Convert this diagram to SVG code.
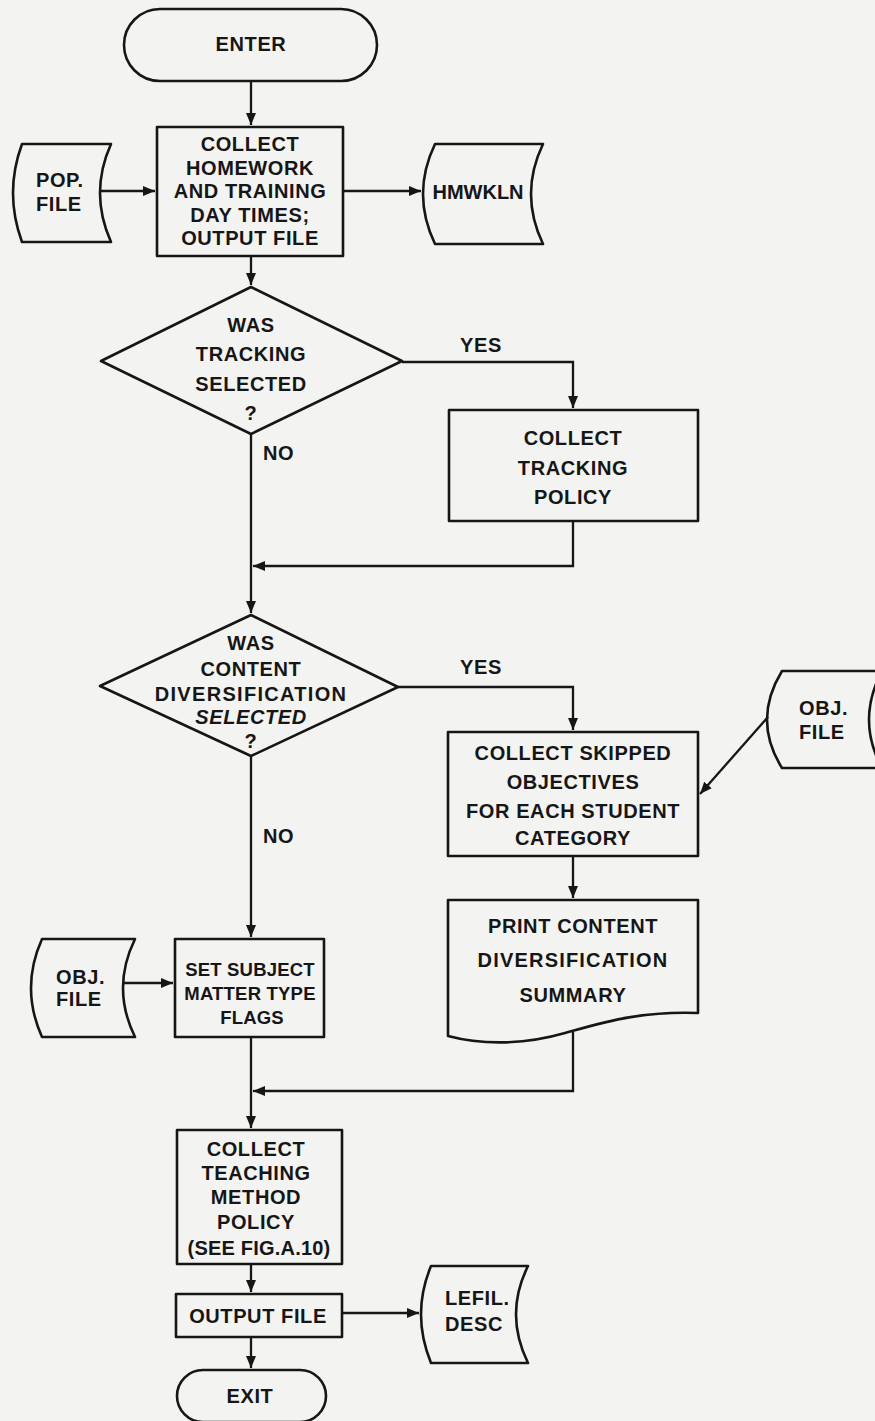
<svg xmlns="http://www.w3.org/2000/svg" width="875" height="1421" viewBox="0 0 875 1421">
<defs>
<marker id="ah" markerUnits="userSpaceOnUse" markerWidth="14" markerHeight="12" refX="12" refY="5" orient="auto">
<path d="M0,0 L12,5 L0,10 Z" fill="#161616"/>
</marker>
<style>
.s{fill:none;stroke:#161616;stroke-width:2.6;stroke-linejoin:round}
.c{fill:none;stroke:#161616;stroke-width:2.3}
.a{marker-end:url(#ah)}
text{font-family:"Liberation Sans",Arial,sans-serif;font-weight:bold;font-size:20px;fill:#161616;letter-spacing:0.6px}
.m{text-anchor:middle}
.i{font-style:italic}
.sm{font-size:18.5px;letter-spacing:0.2px}
</style>
</defs>
<rect x="0" y="0" width="875" height="1421" fill="#f3f3f1"/>

<g id="connectors">
<path class="c a" d="M251,81 V125"/>
<path class="c a" d="M100,191 H155"/>
<path class="c a" d="M343,191 H421"/>
<path class="c a" d="M251,256 V285"/>
<path class="c a" d="M402,362 H573 V408"/>
<path class="c" d="M573,521 V566 H262"/>
<path class="c a" d="M262,566 H253"/>
<path class="c a" d="M251,434 V613"/>
<path class="c a" d="M398,687 H573 V730"/>
<path class="c a" d="M768,717 L700,794"/>
<path class="c a" d="M573,856 V898"/>
<path class="c" d="M573,1032 V1091 H262"/>
<path class="c a" d="M262,1091 H253"/>
<path class="c a" d="M251,757 V937"/>
<path class="c a" d="M123,983 H173"/>
<path class="c a" d="M251,1037 V1128"/>
<path class="c a" d="M251,1264 V1292"/>
<path class="c a" d="M342,1313 H419"/>
<path class="c a" d="M251,1337 V1368"/>
</g>

<g id="enter">
<rect class="s" x="124" y="9" width="253" height="72" rx="36" ry="36"/>
<text class="m" x="251" y="51">ENTER</text>
</g>

<g id="collect-homework">
<rect class="s" x="157" y="127" width="186" height="129"/>
<text class="m" x="250" y="151">COLLECT</text>
<text class="m" x="250" y="175">HOMEWORK</text>
<text class="m" x="250" y="198">AND TRAINING</text>
<text class="m" x="250" y="222">DAY TIMES;</text>
<text class="m" x="250" y="245">OUTPUT FILE</text>
</g>

<g id="pop-file">
<path class="s" d="M22,144 H111 Q89,193 111,242 H22 Q4,193 22,144 Z"/>
<text x="36" y="187">POP.</text>
<text x="36" y="211">FILE</text>
</g>

<g id="hmwkln">
<path class="s" d="M435,144 H543 Q519,194 543,244 H435 Q411,194 435,144 Z"/>
<text class="m" x="478" y="199" style="letter-spacing:0">HMWKLN</text>
</g>

<g id="decision-tracking">
<path class="s" d="M251,287 L402,361 L251,434 L101,361 Z"/>
<text class="m" x="251" y="332">WAS</text>
<text class="m" x="251" y="361">TRACKING</text>
<text class="m" x="251" y="391">SELECTED</text>
<text class="m" x="251" y="420">?</text>
<text x="263" y="460">NO</text>
<text x="460" y="352">YES</text>
</g>

<g id="collect-tracking">
<rect class="s" x="449" y="410" width="249" height="111"/>
<text class="m" x="573" y="445">COLLECT</text>
<text class="m" x="573" y="475">TRACKING</text>
<text class="m" x="573" y="504">POLICY</text>
</g>

<g id="decision-content">
<path class="s" d="M251,615 L398,687 L251,756 L100,686 Z"/>
<text class="m" x="251" y="650">WAS</text>
<text class="m" x="251" y="676">CONTENT</text>
<text class="m" x="251" y="701" style="letter-spacing:1.3px">DIVERSIFICATION</text>
<text class="m i" x="251" y="724">SELECTED</text>
<text class="m" x="251" y="748">?</text>
<text x="263" y="843">NO</text>
<text x="460" y="674">YES</text>
</g>

<g id="obj-file-right">
<path class="s" d="M782,671 H882 Q856,720 882,768 H782 Q752,720 782,671 Z"/>
<text x="799" y="715">OBJ.</text>
<text x="799" y="739">FILE</text>
</g>

<g id="collect-skipped">
<rect class="s" x="448" y="732" width="250" height="124"/>
<text class="m" x="573" y="760">COLLECT SKIPPED</text>
<text class="m" x="573" y="789">OBJECTIVES</text>
<text class="m" x="573" y="818">FOR EACH STUDENT</text>
<text class="m" x="573" y="845">CATEGORY</text>
</g>

<g id="print-summary">
<path class="s" d="M448,900 H698 V1013 C640,1011 605,1022 565,1033 C520,1046 478,1044 448,1036 Z"/>
<text class="m" x="573" y="933">PRINT CONTENT</text>
<text class="m" x="573" y="967" style="letter-spacing:1.2px">DIVERSIFICATION</text>
<text class="m" x="573" y="1002">SUMMARY</text>
</g>

<g id="obj-file-left">
<path class="s" d="M42,939 H135 Q111,988 135,1037 H42 Q20,988 42,939 Z"/>
<text x="56" y="984">OBJ.</text>
<text x="56" y="1006">FILE</text>
</g>

<g id="set-subject">
<rect class="s" x="175" y="939" width="149" height="98"/>
<text class="m sm" x="250" y="976">SET SUBJECT</text>
<text class="m sm" x="250" y="1000">MATTER TYPE</text>
<text class="m sm" x="252" y="1024">FLAGS</text>
</g>

<g id="collect-teaching">
<rect class="s" x="177" y="1130" width="165" height="134"/>
<text class="m" x="256" y="1156">COLLECT</text>
<text class="m" x="256" y="1180">TEACHING</text>
<text class="m" x="256" y="1204">METHOD</text>
<text class="m" x="256" y="1229">POLICY</text>
<text class="m" x="259" y="1255" style="letter-spacing:0.2px">(SEE FIG.A.10)</text>
</g>

<g id="output-file">
<rect class="s" x="176" y="1294" width="166" height="43"/>
<text class="m" x="258" y="1323">OUTPUT FILE</text>
</g>

<g id="lefil-desc">
<path class="s" d="M431,1266 H528 Q504,1314 528,1363 H431 Q411,1314 431,1266 Z"/>
<text x="445" y="1305">LEFIL.</text>
<text x="445" y="1331">DESC</text>
</g>

<g id="exit">
<rect class="s" x="177" y="1370" width="149" height="52" rx="26" ry="26"/>
<text class="m" x="250" y="1403">EXIT</text>
</g>
</svg>
